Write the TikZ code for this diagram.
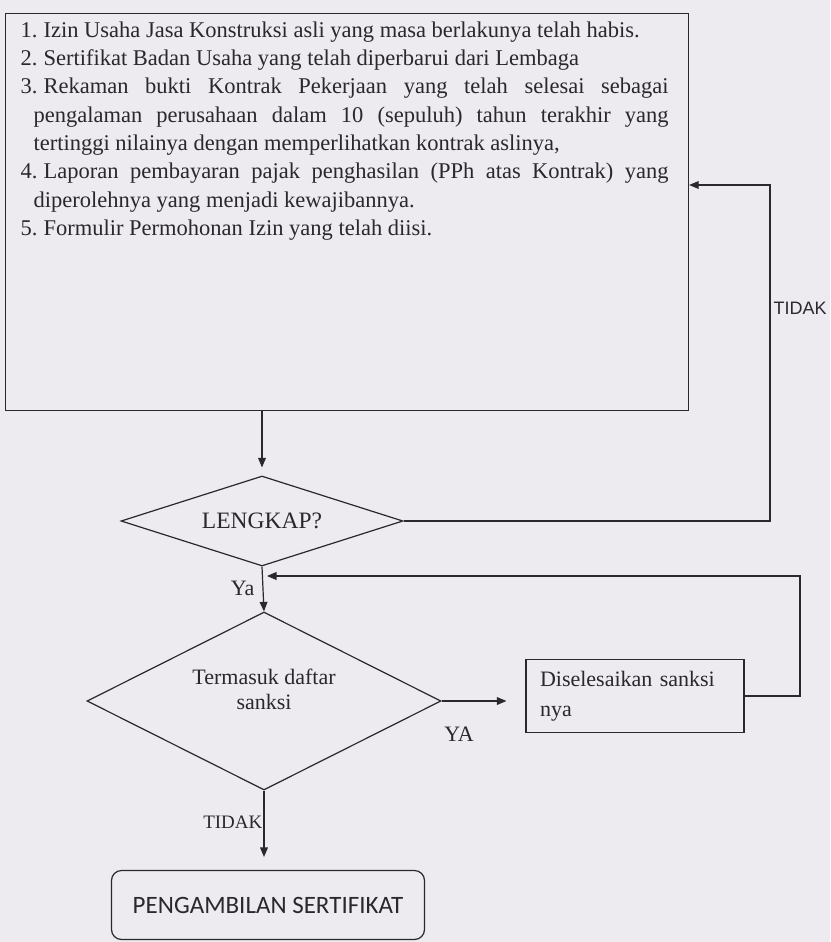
\documentclass[tikz,border=0pt]{standalone}
\usepackage{fontspec}
\setmainfont{Liberation Serif}
\newfontfamily\fontarial{Liberation Sans}
\newfontfamily\fontcalibri{Carlito}
\usepackage{tikz}
\usetikzlibrary{arrows, shapes.geometric, positioning}

\definecolor{kertas}{RGB}{237,234,240}
\definecolor{tinta}{RGB}{40,40,45}
\newcommand{\nomor}[1]{\makebox[23pt][l]{#1}}

\begin{document}
\begin{tikzpicture}[x=1pt, y=-1pt, >=triangle 45, line width=1.2pt, color=tinta,
		kotak/.style={draw, rectangle, inner sep=0pt},
		belah/.style={draw, diamond, inner sep=0pt, font=\fontsize{22}{25}\selectfont},
		ket/.style={inner sep=0pt, font=\fontsize{22}{25}\selectfont}]
		\fill[kertas] (0,0) rectangle (830,942);
		\useasboundingbox (0,0) rectangle (830,942);

		% kotak persyaratan
		\node[kotak, minimum width=683pt, minimum height=397pt, anchor=north west] (syarat) at (5,13) {};
		\node[anchor=north west, inner sep=0pt, align=left, font=\fontsize{22.5}{28.3}\selectfont] (isi) at (20,21) {%
			\nomor{1.}Izin Usaha Jasa Konstruksi asli yang masa berlakunya telah habis.\\
			\nomor{2.}Sertifikat Badan Usaha yang telah diperbarui dari Lembaga\\
			\nomor{3.}\makebox[625pt][s]{Rekaman bukti Kontrak Pekerjaan yang telah selesai sebagai}\\
			\hspace*{13pt}\makebox[635pt][s]{pengalaman perusahaan dalam 10 (sepuluh) tahun terakhir yang}\\
			\hspace*{13pt}tertinggi nilainya dengan memperlihatkan kontrak aslinya,\\
			\nomor{4.}\makebox[625pt][s]{Laporan pembayaran pajak penghasilan (PPh atas Kontrak) yang}\\
			\hspace*{13pt}diperolehnya yang menjadi kewajibannya.\\
			\nomor{5.}Formulir Permohonan Izin yang telah diisi.};

		% keputusan
		\node[belah, aspect=3.1, minimum width=282pt, minimum height=90pt, font=\fontsize{23.5}{26}\selectfont] (lengkap) at (262,521) {LENGKAP?};
		\node[belah, aspect=2, minimum width=354pt, minimum height=178pt] (cek) at (264,701) {};
		\node[ket, align=center] (cekteks) at ([yshift=12pt]cek.center) {Termasuk daftar\\sanksi};
		\node[kotak, minimum height=73pt, text width=190pt, inner xsep=14pt, align=left, font=\fontsize{22}{30}\selectfont] (sanksi) at (635,696) {Diselesaikan sanksi\\nya};
		\node[kotak, rounded corners=10pt, minimum width=313pt, minimum height=69pt, font=\fontcalibri\fontsize{25}{28}\selectfont] (ambil) at (268,905) {PENGAMBILAN SERTIFIKAT};

		\coordinate (pojokA) at (770,521); \coordinate (pojokB) at (770,185);
		\coordinate (pojokC) at (800,576);

		% panah
		\draw[->, shorten >=8pt] (syarat.south -| lengkap.north) -- (lengkap.north);
		\draw[->] (lengkap.east) -- (pojokA) -- (pojokB) -- (pojokB -| syarat.east);
		\node[anchor=west, inner sep=0pt, font=\fontarial\fontsize{18}{20}\selectfont] (tidakA) at (773,308) {TIDAK};
		\draw[->] (lengkap.south) -- (cek.north);
		\node[ket, anchor=east] (ya) at (255,588) {Ya};
		\draw[->, shorten >=3pt] (sanksi.east) -- (sanksi.east -| pojokC) -- (pojokC) -- (pojokC -| cek.north);
		\draw[->, shorten >=19pt] (cek.east) -- (cek.east -| sanksi.west);
		\node[ket] (yaB) at (459,734) {YA};
		\draw[->, shorten >=13pt] (cek.south) -- (cek.south |- ambil.north);
		\node[ket, anchor=east, font=\fontsize{19}{22}\selectfont] (tidakB) at (263,822) {TIDAK};
	\end{tikzpicture}
\end{document}
